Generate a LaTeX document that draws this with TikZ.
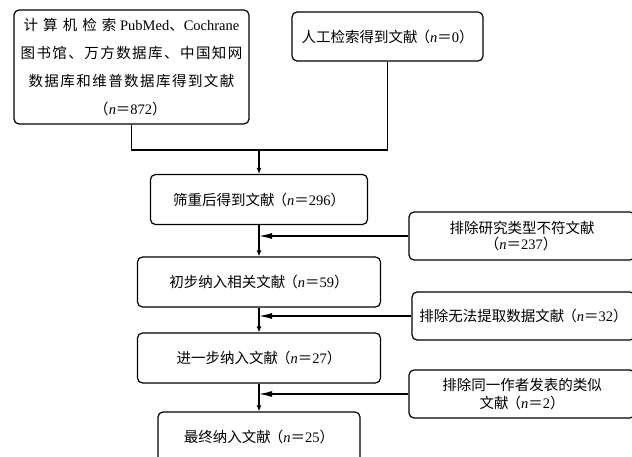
\documentclass[tikz,border=0pt]{standalone}
\usepackage{fontspec}
\setmainfont{Liberation Serif}
\newfontfamily\cjk{Noto Sans CJK SC}
\newfontfamily\cjkwide[LetterSpace=10]{Noto Sans CJK SC}
\newfontfamily\cjkwider[LetterSpace=35]{Noto Sans CJK SC}
\usetikzlibrary{arrows.meta}
\newcommand{\nval}[1]{\kern-2pt{\cjk （}\textit{n}{\cjk ＝}#1{\cjk ）}}

\begin{document}
\begin{tikzpicture}[x=1pt, y=-1pt, line width=1.2pt]
        \tikzstyle{box}=[draw, rounded corners=5pt, align=center, inner sep=2pt, fill=white, font=\fontsize{14.5}{16}\selectfont]
        \tikzstyle{mainbox}=[box, minimum height=50pt]
        \tikzstyle{exclbox}=[box, minimum width=226pt, minimum height=48pt]
        \tikzstyle{down}=[-{Latex[length=6pt, width=5pt]}]
        \tikzstyle{exclarrow}=[-{Latex[length=13pt, width=6pt]}]
        \path[use as bounding box, clip] (0,0) rectangle (632,457);
        \fill[white] (0,0) rectangle (632,457);
        \node [box, minimum width=235pt, minimum height=114pt, font=\fontsize{14.5}{28}\selectfont] (search) at (131.5,67) {{\cjkwider 计算机检索} PubMed{\cjk 、}Cochrane\\ {\cjkwide 图书馆、万方数据库、中国知网}\\ {\cjkwide 数据库和维普数据库得到文献}\\ \nval{872}};
        \node [box, minimum width=191pt, minimum height=49pt] (manual) at (387.5,36.5) {{\cjk 人工检索得到文献}\nval{0}};
        \node [mainbox, minimum width=217pt] (screened) at (259,199.5) {{\cjk 筛重后得到文献}\nval{296}};
        \node [mainbox, minimum width=243pt] (initial) at (259,282) {{\cjk 初步纳入相关文献}\nval{59}};
        \node [mainbox, minimum width=243pt] (further) at (259,358) {{\cjk 进一步纳入文献}\nval{27}};
        \node [mainbox, minimum width=202pt] (final) at (259,437) {{\cjk 最终纳入文献}\nval{25}};
        \node [exclbox] (excltype) at (522,236) {{\cjk 排除研究类型不符文献}\\ \nval{237}};
        \node [exclbox, minimum width=223pt] (excldata) at (523.5,316) {{\cjk 排除无法提取数据文献}\nval{32}};
        \node [exclbox, font=\fontsize{14.5}{18}\selectfont] (exclauthor) at (522,394) {{\cjk 排除同一作者发表的类似}\\ {\cjk 文献}\nval{2}};
        \coordinate (join) at (259,150);
        \draw (search.south) |- (join) -| (manual.south);
        \draw[down] (join) -- (screened.north);
        \draw[down] (screened.south) -- (initial.north);
        \draw[down] (initial.south) -- (further.north);
        \draw[down] (further.south) -- (final.north);
        \draw[exclarrow] (excltype.west) -- (excltype.west -| screened.south);
        \draw[exclarrow] (excldata.west) -- (excldata.west -| initial.south);
        \draw[exclarrow] (exclauthor.west) -- (exclauthor.west -| further.south);
\end{tikzpicture}
\end{document}
